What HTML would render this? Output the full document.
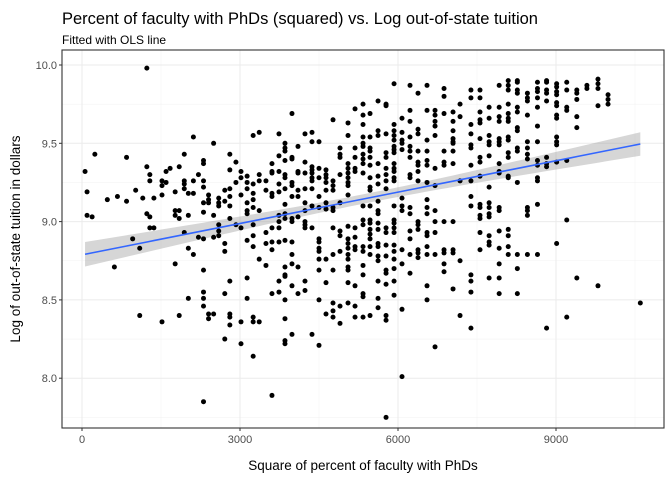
<!DOCTYPE html>
<html><head><meta charset="utf-8"><style>
body{margin:0;background:#fff;}
svg{display:block;font-family:"Liberation Sans",sans-serif;}
</style></head><body>
<svg id="chart" width="672" height="480" viewBox="0 0 672 480" xmlns="http://www.w3.org/2000/svg">
<text x="62" y="24" font-size="16.5" fill="#000">Percent of faculty with PhDs (squared) vs. Log out-of-state tuition</text>
<text x="62" y="44" font-size="12" fill="#000">Fitted with OLS line</text>
<text x="363" y="470" font-size="13.5" text-anchor="middle" fill="#000">Square of percent of faculty with PhDs</text>
<text transform="translate(20,239) rotate(-90)" font-size="13.5" text-anchor="middle" fill="#000">Log of out-of-state tuition in dollars</text>
<g id="grid"></g><g id="band"></g><g id="pts"></g><g id="axes"></g>
</svg>
<script>
const xTicks=[0,3000,6000,9000];
const xMinor=[1500,4500,7500,10500];
const yTicks=[8.0,8.5,9.0,9.5,10.0];
const yTickLabels=["8.0","8.5","9.0","9.5","10.0"];
const yMinor=[7.75,8.25,8.75,9.25,9.75];
// each column: [x, [y values...]]
const columns=[
[1231,[9.98,9.35]],[244,[9.43]],[846,[9.41,9.13]],[58,[9.32]],[96,[9.19,9.04]],[192,[9.03]],[481,[9.14]],[673,[9.16]],
[1019,[9.20]],[1154,[9.15]],[1288,[9.30,9.26,9.03,8.96]],[1231,[9.05]],[1365,[8.96,9.15]],[962,[8.89]],[1096,[8.83,8.40]],
[615,[8.71]],[1519,[9.17,9.23,9.26,8.36]],[1596,[9.25,9.32]],[1673,[9.34]],[1846,[9.35,9.07,9.02,8.40]],
[1942,[9.43,9.26,9.24,9.21,8.93]],[1769,[9.19,9.07,9.04,8.73]],[2019,[9.18,9.04,8.83,8.51]],
[2115,[8.79,9.54,9.26,9.18]],[2211,[9.30,8.90]],[2307,[9.39,9.37,9.26,9.22,9.12,9.06,8.89,8.69,8.55,8.51,8.46,7.85]],
[2403,[8.41,8.38,9.17,9.14,9.12]],[2499,[8.41,9.50,9.04,8.90]],[2596,[9.15,9.12,9.10,8.98,8.94,8.91]],
[2711,[9.13,9.20,8.86,8.81,8.54,8.25]],[2807,[9.43,9.33,9.21,9.16,9.10,9.02,8.62,8.41,8.39,8.34]],[2923,[9.38,9.25,8.98]],
[3019,[9.32,9.28,9.17,8.96,8.36,8.22]],[3135,[9.29,9.25,9.21,9.12,9.07,9.05,8.88,8.64,8.51]],
[3250,[9.55,9.24,9.18,9.14,9.09,8.98,8.91,8.84,8.39,8.36,8.14]],[3365,[9.57,9.30,9.26,9.07,8.76,8.36]],
[3493,[9.26,9.20,8.93,8.86,8.72]],[3607,[9.37,9.32,9.31,9.18,9.16,8.96,8.87,8.82,8.54,7.89]],
[3740,[9.56,9.42,9.32,9.24,9.19,9.04,9.00,8.96,8.87,8.62,8.55]],
[3854,[9.50,9.47,9.45,9.39,9.30,9.28,9.21,9.11,9.05,9.02,8.88,8.71,8.66,8.65,8.50,8.38,8.24,8.22]],
[3987,[9.69,9.41,9.40,9.25,9.23,9.16,9.02,9.00,8.87,8.79,8.73,8.59,8.28]],
[4101,[9.48,9.32,9.31,9.20,9.16,9.03,8.71,8.54]],[4234,[9.56,9.38,9.31,9.21,9.12,9.07,9.00,8.98,8.96,8.62,8.56]],
[4367,[9.57,9.51,9.35,9.33,9.31,9.28,9.26,9.21,9.10,8.96,8.28]],
[4500,[9.51,9.34,9.28,9.16,9.09,8.89,8.87,8.83,8.81,8.76,8.69,8.50,8.21]],
[4633,[9.33,9.30,9.28,9.25,9.20,9.12,9.08,8.76,8.61,8.41]],
[4766,[9.65,9.26,9.23,9.20,9.09,9.07,8.96,8.79,8.69,8.48,8.43,8.39]],
[4899,[9.47,9.43,9.41,9.30,9.12,8.94,8.91,8.81,8.46,8.35]],
[5051,[9.63,9.55,9.37,9.34,9.31,9.28,9.25,9.23,9.17,8.97,8.89,8.86,8.83,8.79,8.76,8.71,8.69,8.61,8.48]],
[5184,[9.72,9.47,9.41,9.34,9.32,8.96,8.90,8.84,8.82,8.59,8.46,8.39]],
[5336,[9.75,9.68,9.62,9.54,9.50,9.48,9.43,9.40,9.37,9.31,9.10,9.01,8.98,8.84,8.81,8.72,8.66,8.54,8.52,8.39]],
[5469,[9.69,9.54,9.47,9.45,9.41,9.36,9.28,9.22,9.20,9.10,9.01,8.99,8.95,8.92,8.89,8.84,8.79,8.40]],
[5621,[9.77,9.58,9.55,9.37,9.29,9.24,9.13,9.07,9.05,8.99,8.95,8.86,8.84,8.78,8.75,8.62,8.51,8.45]],
[5773,[9.75,9.74,9.56,9.44,9.41,9.34,9.30,9.26,9.21,8.96,8.93,8.85,8.78,8.69,8.67,8.60,8.40,8.37,7.75]],
[5925,[9.88,9.62,9.58,9.55,9.52,9.48,9.46,9.44,9.37,9.34,9.32,9.28,9.26,9.10,9.01,8.99,8.96,8.93,8.85,8.81,8.76,8.70,8.62,8.53]],
[6076,[9.66,9.57,9.52,9.50,9.46,9.15,9.10,9.07,8.82,8.73,8.44,8.01]],
[6228,[9.87,9.71,9.64,9.54,9.48,9.45,9.41,9.30,9.28,9.09,9.05,8.94,8.89,8.79,8.67]],
[6380,[9.82,9.59,9.56,9.45,9.38,9.36,9.32,9.26,9.00,8.98,8.95,8.82,8.80,8.77]],
[6551,[9.87,9.71,9.52,9.45,9.39,9.36,9.25,9.14,9.09,9.05,8.93,8.91,8.84,8.79,8.59,8.50]],
[6703,[9.71,9.68,9.64,9.61,9.55,9.34,9.23,9.07,9.00,8.93,8.79,8.20]],
[6874,[9.85,9.80,9.69,9.45,9.38,9.36,9.00,8.82,8.80,8.73,8.68]],
[7045,[9.70,9.64,9.58,9.53,9.51,9.50,9.45,9.37,9.00,8.82,8.80,8.57]],
[7178,[9.75,9.67,9.26,8.75,8.40]],
[7385,[9.84,9.79,9.62,9.56,9.49,9.47,9.36,9.26,9.16,9.10,8.66,8.62,8.55,8.32]],
[7557,[9.84,9.79,9.70,9.65,9.63,9.53,9.41,9.38,9.29,9.11,9.09,9.04,9.02,8.93,8.82]],
[7730,[9.73,9.66,9.55,9.51,9.49,9.42,9.22,9.12,9.09,9.05,9.03,8.91,8.87,8.85,8.64]],
[7921,[9.87,9.73,9.67,9.64,9.53,9.51,9.49,9.37,9.32,9.31,9.09,9.07,8.94,8.83,8.73,8.64,8.54]],
[8093,[9.90,9.87,9.84,9.75,9.69,9.66,9.64,9.54,9.52,9.44,9.41,9.29,9.28,8.95,8.91,8.84,8.79]],
[8266,[9.90,9.89,9.84,9.82,9.73,9.70,9.60,9.58,9.47,9.45,9.25,8.79,8.70,8.54]],
[8457,[9.82,9.79,9.77,9.68,9.51,9.47,9.43,9.40,9.09,9.07,9.04,8.79]],
[8648,[9.89,9.85,9.83,9.79,9.73,9.61,9.51,9.39,9.36,9.28,9.26,9.11,8.79]],
[8821,[9.90,9.89,9.84,9.82,9.77,9.41,9.37,9.35,8.32]],
[9012,[9.88,9.86,9.83,9.81,9.76,9.74,9.68,9.66,9.54,9.51,9.49,9.38,8.86]],
[9204,[9.89,9.84,9.73,9.71,9.39,9.01,8.39]],[9395,[9.84,9.82,9.78,9.67,9.60,8.64]],
[9587,[9.87,9.85]],[9797,[9.91,9.88,9.85,9.74,8.59]],[9988,[9.81,9.78,9.75]],[10601,[8.48]]
];
const NS="http://www.w3.org/2000/svg";
const P={l:62,r:664,t:50,b:428};
function sx(v){return 82+v*0.052667;}
function sy(v){return 65+(10-v)*156.6;}
function mk(tag,attrs,parent){const e=document.createElementNS(NS,tag);for(const k in attrs)e.setAttribute(k,attrs[k]);parent.appendChild(e);return e;}
const grid=document.getElementById('grid'),band=document.getElementById('band'),pts=document.getElementById('pts'),axes=document.getElementById('axes');
xMinor.forEach(v=>{const l=mk('line',{x1:sx(v),x2:sx(v),y1:P.t,y2:P.b,stroke:'#f3f3f3','stroke-width':0.6},grid);

});
yMinor.forEach(v=>{const l=mk('line',{x1:P.l,x2:P.r,y1:sy(v),y2:sy(v),stroke:'#f3f3f3','stroke-width':0.6},grid);

});
xTicks.forEach(v=>{const l=mk('line',{x1:sx(v),x2:sx(v),y1:P.t,y2:P.b,stroke:'#ebebeb','stroke-width':1},grid);


const t=mk('line',{x1:sx(v),x2:sx(v),y1:P.b,y2:P.b+3,stroke:'#333','stroke-width':1},axes);


const tx=mk('text',{x:sx(v),y:P.b+15,'font-size':11,'text-anchor':'middle',fill:'#4d4d4d'},axes);tx.textContent=String(v);

});
yTicks.forEach((v,i)=>{const l=mk('line',{x1:P.l,x2:P.r,y1:sy(v),y2:sy(v),stroke:'#ebebeb','stroke-width':1},grid);


const t=mk('line',{x1:P.l-3,x2:P.l,y1:sy(v),y2:sy(v),stroke:'#333','stroke-width':1},axes);


const tx=mk('text',{x:P.l-5,y:sy(v)+4,'font-size':11,'text-anchor':'end',fill:'#4d4d4d'},axes);tx.textContent=yTickLabels[i];

});
// OLS
const X=[],Y=[];columns.forEach(c=>c[1].forEach(y=>{X.push(c[0]);Y.push(y);}));
const n=X.length;let mx=0,my=0;for(let i=0;i<n;i++){mx+=X[i];my+=Y[i];}mx/=n;my/=n;
let sxx=0,sxy=0;for(let i=0;i<n;i++){sxx+=(X[i]-mx)**2;sxy+=(X[i]-mx)*(Y[i]-my);}
const b=sxy/sxx,a=my-b*mx;let sse=0;for(let i=0;i<n;i++)sse+=(Y[i]-a-b*X[i])**2;const s=Math.sqrt(sse/(n-2));
const xmin=Math.min(...X),xmax=Math.max(...X);const up=[],lo=[],mid=[];
for(let k=0;k<=80;k++){const x=xmin+(xmax-xmin)*k/80;const f=a+b*x;const se=1.96*s*Math.sqrt(1/n+(x-mx)**2/sxx);
up.push(sx(x)+','+sy(f+se));lo.unshift(sx(x)+','+sy(f-se));mid.push(sx(x)+','+sy(f));}
const rib=mk('polygon',{points:up.concat(lo).join(' '),fill:'#999',opacity:0.4},band);


columns.forEach(c=>c[1].forEach(y=>{const p=mk('circle',{cx:sx(c[0]),cy:sy(y),r:2.5,fill:'#000'},pts);

}));
const fl=mk('polyline',{points:mid.join(' '),fill:'none',stroke:'#3366ff','stroke-width':1.6},pts);


const fr=mk('rect',{x:P.l,y:P.t,width:P.r-P.l,height:P.b-P.t,fill:'none',stroke:'#333','stroke-width':1.1},axes);


</script>
</body></html>
